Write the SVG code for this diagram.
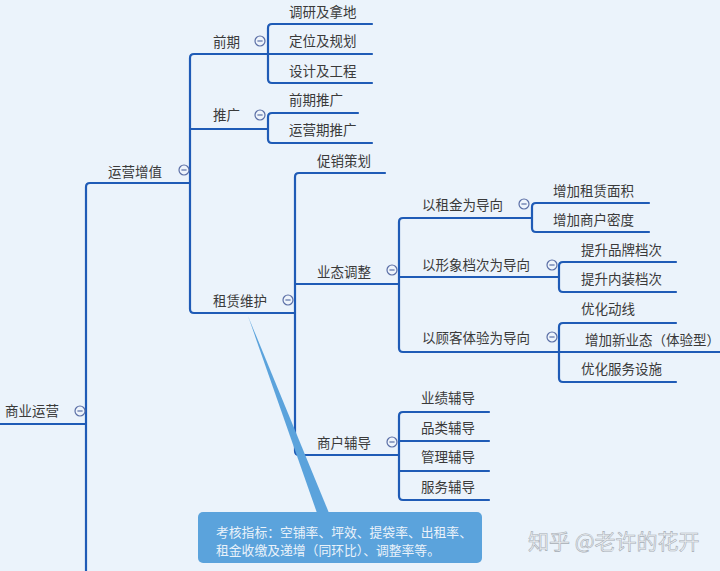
<svg xmlns="http://www.w3.org/2000/svg" width="720" height="571" viewBox="0 0 720 571">
<style>
.c{fill:none;stroke:#1F5BB6;stroke-width:2.2;stroke-linecap:round;stroke-linejoin:round}
.t{font-family:"Noto Sans CJK SC","Noto Sans",sans-serif;font-size:13.5px;fill:#3a3a3a}
.k{fill:#EEF4FB;stroke:#5B6FA6;stroke-width:1.2}
.m{stroke:#5B6FA6;stroke-width:1.2}
.ct{font-family:"Noto Sans CJK SC","Noto Sans",sans-serif;font-size:12.8px;fill:#EAF2FA}
</style>
<defs>
<g id="col"><circle class="k" r="5"/><line class="m" x1="-2.6" y1="0" x2="2.6" y2="0"/></g>
</defs>
<rect width="720" height="571" fill="#EBF3FB"/>
<g id="connectors">
<path class="c" d="M0,424 H86"/>
<path class="c" d="M86,573 V187 Q86,183 90,183 H190"/>
<path class="c" d="M190,183 V58 Q190,54 194,54 H268"/>
<path class="c" d="M190,129 H268"/>
<path class="c" d="M190,183 V309 Q190,313 194,313 H295"/>
<path class="c" d="M268,54 H372"/>
<path class="c" d="M268,54 V28 Q268,24 272,24 H372"/>
<path class="c" d="M268,54 V79 Q268,83 272,83 H372"/>
<path class="c" d="M268,129 V117 Q268,113 272,113 H358"/>
<path class="c" d="M268,129 V139 Q268,143 272,143 H372"/>
<path class="c" d="M295,313 V177 Q295,173 299,173 H385"/>
<path class="c" d="M295,284 H399"/>
<path class="c" d="M295,313 V451 Q295,455 299,455 H399"/>
<path class="c" d="M399,284 V222 Q399,218 403,218 H532"/>
<path class="c" d="M399,277 H559"/>
<path class="c" d="M399,284 V348 Q399,352 403,352 H559"/>
<path class="c" d="M532,218 V207 Q532,203 536,203 H649"/>
<path class="c" d="M532,218 V228 Q532,232 536,232 H649"/>
<path class="c" d="M559,277 V266 Q559,262 563,262 H676"/>
<path class="c" d="M559,277 V288 Q559,292 563,292 H676"/>
<path class="c" d="M559,352 V327 Q559,323 563,323 H676"/>
<path class="c" d="M559,352 H722"/>
<path class="c" d="M559,352 V378 Q559,382 563,382 H676"/>
<path class="c" d="M399,455 V416 Q399,412 403,412 H489"/>
<path class="c" d="M399,441 H489"/>
<path class="c" d="M399,471 H489"/>
<path class="c" d="M399,455 V496 Q399,500 403,500 H489"/>
</g>
<g id="root"><text class="t" x="5" y="416">商业运营</text><use href="#col" x="80" y="411"/></g>
<g id="n-yyzz"><text class="t" x="108" y="177">运营增值</text><use href="#col" x="184" y="170"/></g>
<g id="n-qq"><text class="t" x="213" y="47">前期</text><use href="#col" x="260" y="41"/></g>
<g id="n-tg"><text class="t" x="213" y="120">推广</text><use href="#col" x="260" y="115"/></g>
<g id="n-zlwh"><text class="t" x="213" y="306">租赁维护</text><use href="#col" x="288" y="300"/></g>
<g id="n-dy"><text class="t" x="289" y="17">调研及拿地</text></g>
<g id="n-dw"><text class="t" x="289" y="46">定位及规划</text></g>
<g id="n-sj"><text class="t" x="289" y="76">设计及工程</text></g>
<g id="n-qqtg"><text class="t" x="289" y="105">前期推广</text></g>
<g id="n-yyqtg"><text class="t" x="289" y="135">运营期推广</text></g>
<g id="n-cx"><text class="t" x="317" y="166">促销策划</text></g>
<g id="n-ytzz"><text class="t" x="317" y="277">业态调整</text><use href="#col" x="392" y="270"/></g>
<g id="n-shfd"><text class="t" x="317" y="448">商户辅导</text><use href="#col" x="392" y="442"/></g>
<g id="n-zj"><text class="t" x="422" y="210">以租金为导向</text><use href="#col" x="524" y="204"/></g>
<g id="n-xx"><text class="t" x="422" y="270">以形象档次为导向</text><use href="#col" x="552" y="265"/></g>
<g id="n-gk"><text class="t" x="422" y="343">以顾客体验为导向</text><use href="#col" x="552" y="337"/></g>
<g id="n-mj"><text class="t" x="553" y="196">增加租赁面积</text></g>
<g id="n-md"><text class="t" x="553" y="225">增加商户密度</text></g>
<g id="n-pp"><text class="t" x="581" y="255">提升品牌档次</text></g>
<g id="n-nz"><text class="t" x="581" y="284">提升内装档次</text></g>
<g id="n-dx"><text class="t" x="581" y="314">优化动线</text></g>
<g id="n-xyt"><text class="t" x="585" y="345">增加新业态（体验型）</text></g>
<g id="n-fw"><text class="t" x="581" y="374">优化服务设施</text></g>
<g id="n-yj"><text class="t" x="421" y="403">业绩辅导</text></g>
<g id="n-pl"><text class="t" x="421" y="433">品类辅导</text></g>
<g id="n-gl"><text class="t" x="421" y="462">管理辅导</text></g>
<g id="n-fwfd"><text class="t" x="421" y="492">服务辅导</text></g>
<g id="callout">
<polygon points="248,316 317,513 329,513" fill="#5BA3DC"/>
<rect x="198" y="512" width="284" height="51" rx="5" fill="#5BA3DC"/>
<text class="ct" x="216" y="537">考核指标：空铺率、坪效、提袋率、出租率、</text>
<text class="ct" x="216" y="555">租金收缴及递增（同环比）、调整率等。</text>
</g>
<text x="528" y="549" font-family="'Noto Sans CJK SC','Noto Sans',sans-serif" font-size="21" fill="#EEF1F4" stroke="#A7AEB6" stroke-width="0.6">知乎 @老许的花开</text>
</svg>
